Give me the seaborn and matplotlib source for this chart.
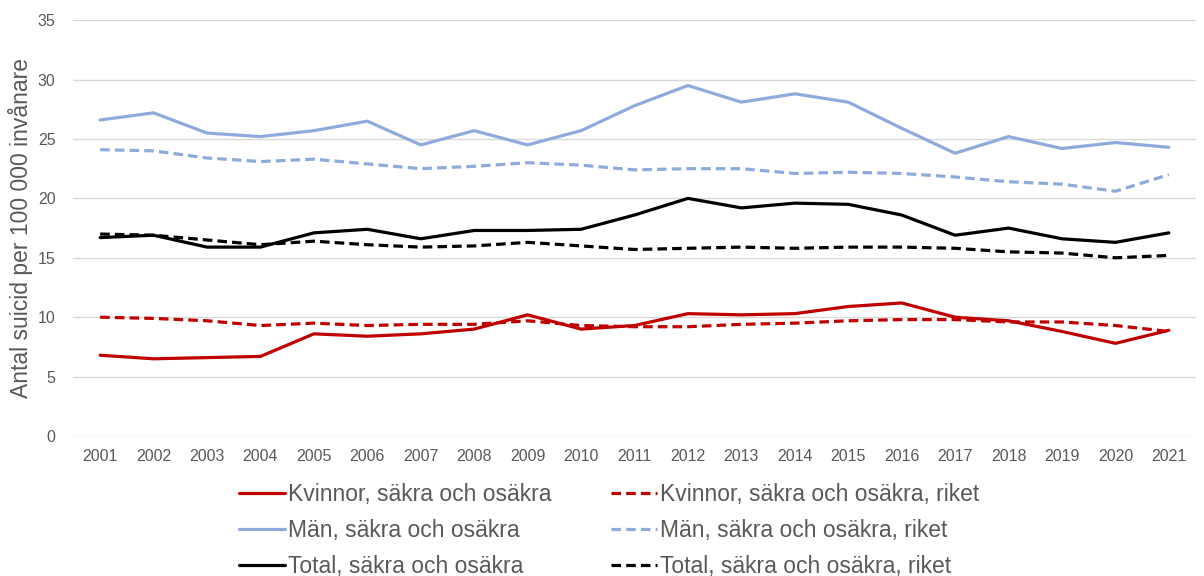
import numpy as np
import pandas as pd
import seaborn as sns
import matplotlib.pyplot as plt

years = list(range(2001, 2022))

kvinnor = [6.8, 6.5, 6.6, 6.7, 8.6, 8.4, 8.6, 9.0, 10.2, 9.0, 9.3,
           10.3, 10.2, 10.3, 10.9, 11.2, 10.0, 9.7, 8.8, 7.8, 8.9]
kvinnor_riket = [10.0, 9.9, 9.7, 9.3, 9.5, 9.3, 9.4, 9.4, 9.7, 9.3, 9.2,
                 9.2, 9.4, 9.5, 9.7, 9.8, 9.8, 9.6, 9.6, 9.3, 8.8]
man = [26.6, 27.2, 25.5, 25.2, 25.7, 26.5, 24.5, 25.7, 24.5, 25.7, 27.8,
       29.5, 28.1, 28.8, 28.1, 25.9, 23.8, 25.2, 24.2, 24.7, 24.3]
man_riket = [24.1, 24.0, 23.4, 23.1, 23.3, 22.9, 22.5, 22.7, 23.0, 22.8, 22.4,
             22.5, 22.5, 22.1, 22.2, 22.1, 21.8, 21.4, 21.2, 20.6, 22.0]
total = [16.7, 16.9, 15.9, 15.9, 17.1, 17.4, 16.6, 17.3, 17.3, 17.4, 18.6,
         20.0, 19.2, 19.6, 19.5, 18.6, 16.9, 17.5, 16.6, 16.3, 17.1]
total_riket = [17.0, 16.9, 16.5, 16.1, 16.4, 16.1, 15.9, 16.0, 16.3, 16.0, 15.7,
               15.8, 15.9, 15.8, 15.9, 15.9, 15.8, 15.5, 15.4, 15.0, 15.2]

series = {
    "Kvinnor, säkra och osäkra": kvinnor,
    "Män, säkra och osäkra": man,
    "Total, säkra och osäkra": total,
    "Kvinnor, säkra och osäkra, riket": kvinnor_riket,
    "Män, säkra och osäkra, riket": man_riket,
    "Total, säkra och osäkra, riket": total_riket,
}
colors = {
    "Kvinnor, säkra och osäkra": "#C00000",
    "Män, säkra och osäkra": "#8FAADC",
    "Total, säkra och osäkra": "#000000",
    "Kvinnor, säkra och osäkra, riket": "#C00000",
    "Män, säkra och osäkra, riket": "#8FAADC",
    "Total, säkra och osäkra, riket": "#000000",
}

rows = []
for name, vals in series.items():
    for y, v in zip(years, vals):
        rows.append({"year": y, "value": v, "serie": name})
df = pd.DataFrame(rows)

sns.set_style("white")
plt.rcParams['font.family'] = ['Liberation Sans', 'DejaVu Sans']
grey = "#595959"

fig = plt.figure(figsize=(12.04, 5.76), dpi=100)
ax = fig.add_axes([0.061, 0.243, 0.932, 0.722])

for name in series:
    sub = df[df["serie"] == name]
    dashed = name.endswith("riket")
    sns.lineplot(data=sub, x="year", y="value", ax=ax, color=colors[name],
                 lw=2.3, linestyle=(0, (3, 1.6)) if dashed else "-", label=name)

ax.set_xlim(2000.5, 2021.5)
ax.set_ylim(0, 35)
ax.set_xticks(years)
ax.set_xticklabels([str(y) for y in years])
ax.set_yticks(range(0, 36, 5))
ax.tick_params(axis="both", colors=grey, labelsize=11.5, length=0)
ax.tick_params(axis="y", pad=13)
ax.tick_params(axis="x", pad=9)
ax.grid(axis="y", color="#D9D9D9", lw=1)
for s in ax.spines.values():
    s.set_visible(False)
ax.set_xlabel("")
ax.set_ylabel("Antal suicid per 100 000 invånare", color=grey, fontsize=16.5, labelpad=3)

handles, labels = ax.get_legend_handles_labels()
ax.get_legend().remove()
fig.legend(handles, labels, ncol=2, loc="upper center", bbox_to_anchor=(0.506, 0.182),
           frameon=False, fontsize=16.5, labelcolor=grey, handlelength=2.0,
           handletextpad=0.15, columnspacing=2.6, labelspacing=0.57, borderpad=0)

fig.savefig("out.png", dpi=100)
